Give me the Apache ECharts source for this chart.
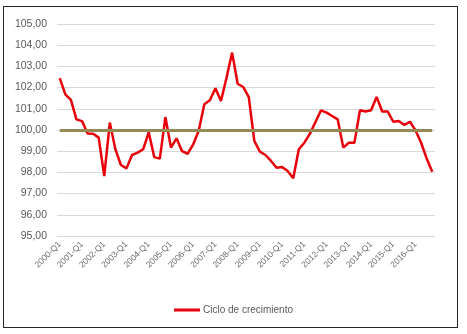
<!DOCTYPE html>
<html>
<head>
<meta charset="utf-8">
<script src="https://cdn.jsdelivr.net/npm/echarts@6/dist/echarts.min.js"></script>
<style>
  html, body { margin: 0; padding: 0; background: #fff; }
  #frame { position: absolute; left: 3px; top: 6px; width: 453px; height: 320px; border: 1px solid #262626; }
  #chart { position: absolute; left: 0; top: 0; width: 467px; height: 334px; }
</style>
</head>
<body>
<div id="frame"></div>
<div id="chart"></div>
<script>
// quarters 2000-Q1 .. 2016-Q4
const years = [2000, 2001, 2002, 2003, 2004, 2005, 2006, 2007, 2008, 2009, 2010, 2011, 2012, 2013, 2014, 2015, 2016];
const quarters = ['Q1', 'Q2', 'Q3', 'Q4'];
const categories = [];
years.forEach(y => quarters.forEach(q => categories.push(y + '-' + q)));

const cicloValues = [
  102.44, 101.68, 101.42, 100.50, 100.42, 99.84, 99.82, 99.64,
  97.83, 100.35, 99.09, 98.35, 98.19, 98.82, 98.93, 99.09,
  99.89, 98.72, 98.65, 100.61, 99.17, 99.61, 99.00, 98.88,
  99.32, 99.98, 101.21, 101.40, 101.97, 101.37, 102.47, 103.65,
  102.18, 102.03, 101.55, 99.48, 98.98, 98.82, 98.54, 98.22,
  98.25, 98.07, 97.72, 99.09, 99.40, 99.83, 100.38, 100.93,
  100.82, 100.66, 100.50, 99.17, 99.40, 99.40, 100.93, 100.87,
  100.93, 101.56, 100.87, 100.87, 100.39, 100.42, 100.24, 100.39,
  99.98, 99.40, 98.66, 98.03
];

const referenceLevel = 100;
const yMin = 95, yMax = 105, yStep = 1;

const chart = echarts.init(document.getElementById('chart'));
chart.setOption({
  animation: false,
  grid: { left: 57, right: 32, top: 24, bottom: 98, containLabel: false },
  legend: {
    data: [{ name: 'Ciclo de crecimiento', icon: 'rect' }],
    top: 300,
    left: 'center',
    itemWidth: 26,
    itemHeight: 3,
    itemGap: 4,
    textStyle: { color: '#595959', fontSize: 10, fontFamily: 'Liberation Sans', padding: [0, 0, 0, -2] }
  },
  xAxis: {
    type: 'category',
    data: categories,
    boundaryGap: true,
    axisLine: { show: false },
    axisTick: { show: false },
    axisLabel: {
      interval: 3,
      rotate: 45,
      margin: 7,
      color: '#6b6b6b',
      fontSize: 8.5,
      fontFamily: 'Liberation Sans'
    }
  },
  yAxis: {
    type: 'value',
    min: yMin,
    max: yMax,
    interval: yStep,
    axisLine: { show: false },
    axisTick: { show: false },
    axisLabel: {
      color: '#595959',
      fontSize: 10.5,
      fontFamily: 'Liberation Sans',
      margin: 10,
      formatter: v => v.toFixed(2).replace('.', ',')
    },
    splitLine: { lineStyle: { color: '#d9d9d9', width: 1 } }
  },
  series: [
    {
      name: 'Ciclo de crecimiento',
      type: 'line',
      data: cicloValues,
      showSymbol: false,
      symbol: 'none',
      z: 3,
      lineStyle: { color: '#e8000b', width: 2.5 },
      itemStyle: { color: '#e8000b' },
      markLine: {
        silent: true,
        symbol: 'none',
        label: { show: false },
        lineStyle: { color: '#948a54', width: 3, type: 'solid' },
        data: [[
          { xAxis: 0, yAxis: referenceLevel },
          { xAxis: categories.length - 1, yAxis: referenceLevel }
        ]]
      }
    }
  ]
});
</script>
</body>
</html>
